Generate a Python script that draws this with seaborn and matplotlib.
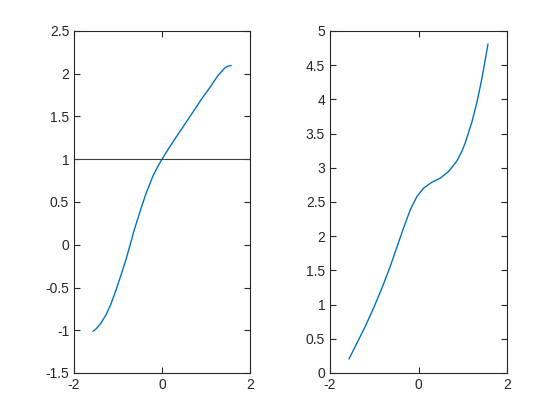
import matplotlib
matplotlib.use("Agg")
import matplotlib.pyplot as plt
import seaborn as sns
import pandas as pd

# Left panel curve
left_x = [-1.571, -1.499, -1.385, -1.271, -1.157, -1.043, -0.929, -0.815, -0.702,
          -0.642, -0.474, -0.36, -0.21, -0.096, 0.0, 0.132, 0.323, 0.551, 0.74,
          0.893, 1.082, 1.271, 1.424, 1.50, 1.571]
left_y = [-1.013, -0.985, -0.915, -0.818, -0.689, -0.526, -0.35, -0.167, 0.039,
          0.155, 0.429, 0.604, 0.798, 0.915, 1.0, 1.11, 1.26, 1.435, 1.58,
          1.70, 1.835, 1.978, 2.066, 2.09, 2.097]
ref_level = 1.0

# Right panel curve
right_x = [-1.571, -1.391, -1.203, -1.016, -0.826, -0.639, -0.488, -0.339, -0.187,
           -0.036, 0.113, 0.302, 0.49, 0.677, 0.867, 0.98, 1.054, 1.205, 1.318,
           1.431, 1.571]
right_y = [0.204, 0.438, 0.681, 0.949, 1.241, 1.557, 1.84, 2.118, 2.385,
           2.579, 2.702, 2.789, 2.848, 2.944, 3.10, 3.24, 3.36, 3.665, 3.95,
           4.30, 4.81]

left_yticks = [-1.5, -1, -0.5, 0, 0.5, 1, 1.5, 2, 2.5]
right_yticks = [0, 0.5, 1, 1.5, 2, 2.5, 3, 3.5, 4, 4.5, 5]
xticks = [-2, 0, 2]

sns.set_style("white")
plt.rcParams['font.family'] = ['Liberation Sans', 'DejaVu Sans']
plt.rcParams['font.size'] = 10

fig = plt.figure(figsize=(5.6, 4.2), dpi=100)
ax1 = fig.add_axes([74/560, 1 - 373/420, 176/560, 342/420])
ax2 = fig.add_axes([330/560, 1 - 373/420, 177/560, 342/420])

line_color = '#0072BD'
axis_color = '#262626'

dfl = pd.DataFrame({'x': left_x, 'y': left_y})
dfr = pd.DataFrame({'x': right_x, 'y': right_y})

sns.lineplot(data=dfl, x='x', y='y', ax=ax1, sort=False, color=line_color, linewidth=1.0)
ax1.axhline(ref_level, color='#404040', linewidth=0.8)
sns.lineplot(data=dfr, x='x', y='y', ax=ax2, sort=False, color=line_color, linewidth=1.0)

def style(ax, yticks, ylim):
    ax.set_xlim(-2, 2)
    ax.set_ylim(*ylim)
    ax.set_xticks(xticks)
    ax.set_xticklabels([f"{t:g}" for t in xticks])
    ax.set_yticks(yticks)
    ax.set_yticklabels([f"{t:g}" for t in yticks])
    ax.set_xlabel('')
    ax.set_ylabel('')
    for s in ax.spines.values():
        s.set_visible(True)
        s.set_color(axis_color)
        s.set_linewidth(0.8)
    ax.tick_params(direction='in', length=4, width=0.8, color=axis_color,
                   labelcolor=axis_color, labelsize=10,
                   top=True, right=True, left=True, bottom=True)

style(ax1, left_yticks, (-1.5, 2.5))
style(ax2, right_yticks, (0, 5))

fig.savefig('out.png', dpi=100)
